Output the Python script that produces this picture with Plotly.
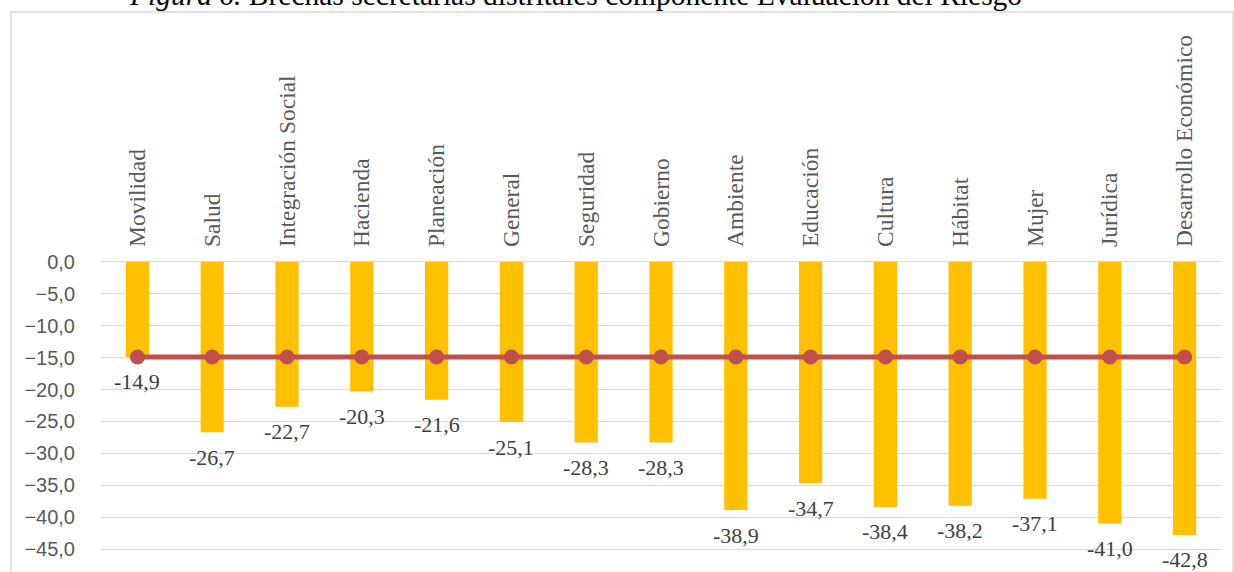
import plotly.graph_objects as go

# Secretarías y brecha del componente Evaluación del Riesgo
categorias = ["Movilidad", "Salud", "Integración Social", "Hacienda", "Planeación",
              "General", "Seguridad", "Gobierno", "Ambiente", "Educación",
              "Cultura", "Hábitat", "Mujer", "Jurídica", "Desarrollo Económico"]
brechas = [-14.9, -26.7, -22.7, -20.3, -21.6, -25.1, -28.3, -28.3,
           -38.9, -34.7, -38.4, -38.2, -37.1, -41.0, -42.8]
referencia = [-14.9] * len(categorias)
ticks_y = [0, -5, -10, -15, -20, -25, -30, -35, -40, -45]

W, H = 1234, 572
L, R = 100, 12
T, B = 260, 0
pw = W - L - R
ph = H - T - B


def px_x(p):
    return (p - L) / pw


def px_y(p):
    return (H - B - p) / ph


fig = go.Figure()
fig.add_trace(go.Bar(
    x=categorias, y=brechas, marker_color="#FFC000", marker_line_width=0,
    width=0.31, showlegend=False, hoverinfo="skip",
))
fig.add_trace(go.Scatter(
    x=categorias, y=referencia, mode="lines+markers",
    line=dict(color="#C0504D", width=5),
    marker=dict(color="#C0504D", size=15),
    showlegend=False, hoverinfo="skip",
))

def fmt(v):
    return f"{v:.1f}".replace(".", ",")

annotations = []
for c, v in zip(categorias, brechas):
    annotations.append(dict(
        x=c, y=v, xref="x", yref="y", text=fmt(v), showarrow=False,
        yanchor="middle", yshift=-25,
        font=dict(family="Liberation Serif", size=22, color="#404040"),
    ))

annotations.append(dict(
    x=px_x(575), y=px_y(13), xref="paper", yref="paper",
    xanchor="center", yanchor="bottom", showarrow=False,
    text="<i>Figura 6.</i> Brechas secretarías distritales componente Evaluación del Riesgo",
    font=dict(family="Liberation Serif", size=29.5, color="#000000"),
))

fig.update_layout(
    width=W, height=H,
    margin=dict(l=L, r=R, t=T, b=B, pad=0),
    paper_bgcolor="white", plot_bgcolor="white",
    separators=", ",
    annotations=annotations,
    shapes=[dict(
        type="rect", xref="paper", yref="paper",
        x0=px_x(11), x1=px_x(1233), y0=px_y(600), y1=px_y(12),
        line=dict(color="#D9D9D9", width=1.5), layer="below",
    )],
    xaxis=dict(
        side="top", tickangle=-90, showgrid=False, showline=False, zeroline=False,
        ticks="", ticklabelstandoff=12,
        tickfont=dict(family="Liberation Serif", size=23.5, color="#595959"),
        range=[-0.5, len(categorias) - 0.5],
    ),
    yaxis=dict(
        range=[-48.6, 0.3], tickvals=ticks_y, tickformat=".1f",
        showgrid=True, gridcolor="#D9D9D9", gridwidth=1.3,
        zeroline=False, showline=False, ticks="", ticklabelstandoff=24,
        tickfont=dict(family="Liberation Sans", size=20, color="#595959"),
    ),
)

fig.write_html("out.html")
